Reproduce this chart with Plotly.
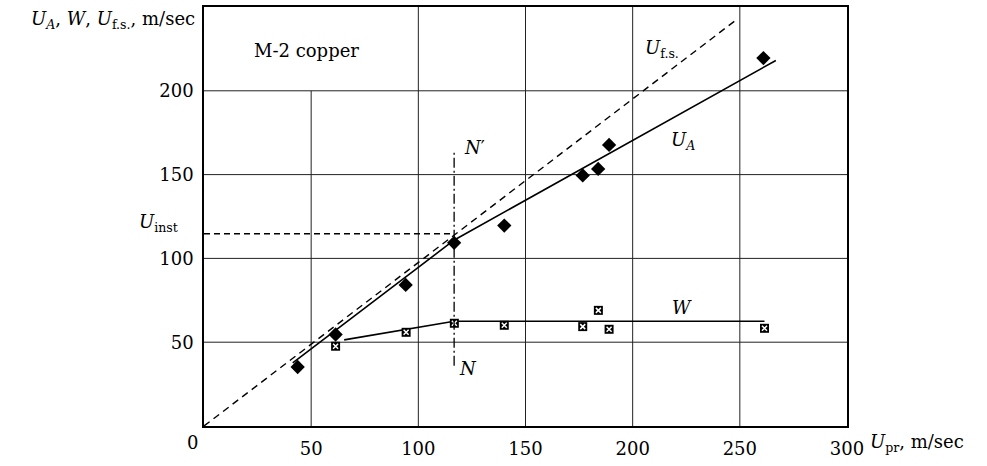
import plotly.graph_objects as go

# ---- data ----
ua_x = [43.7, 61.4, 94.1, 116.7, 140.1, 176.7, 183.9, 189.0, 261.0]
ua_y = [35.2, 54.6, 84.2, 109.3, 119.6, 149.5, 153.4, 167.7, 219.5]

w_x = [61.4, 94.3, 116.8, 140.1, 176.7, 184.0, 189.0, 261.5]
w_y = [47.6, 55.9, 61.3, 60.1, 59.3, 69.0, 57.7, 58.3]

ua_fit_x = [41.4, 116.8, 266.8]
ua_fit_y = [37.6, 111.0, 218.1]

w_fit_x = [65.4, 116.7, 261.5]
w_fit_y = [51.4, 62.5, 62.5]

ufs_x = [0, 248]
ufs_y = [0, 242]

u_inst = 114.7
n_x = 116.7
n_y = [36.0, 163.0]

x_ticks = [50, 100, 150, 200, 250, 300]
y_ticks = [50, 100, 150, 200]
x_grid = [50, 100, 150, 200, 250]
y_grid = [50, 100, 150, 200]

FONT = "DejaVu Serif"
FS = 18

fig = go.Figure()

shapes = []
for gx in x_grid:
    top = 200 if gx == 50 else 250
    shapes.append(dict(type="line", xref="x", yref="y", x0=gx, x1=gx, y0=0, y1=top,
                       line=dict(color="#222", width=1), layer="below"))
for gy in y_grid:
    shapes.append(dict(type="line", xref="x", yref="y", x0=0, x1=300, y0=gy, y1=gy,
                       line=dict(color="#222", width=1), layer="below"))
shapes.append(dict(type="line", xref="x", yref="y", x0=0, x1=n_x, y0=u_inst, y1=u_inst,
                   line=dict(color="black", width=1.3, dash="6px,4px")))
shapes.append(dict(type="line", xref="x", yref="y", x0=n_x, x1=n_x, y0=n_y[0], y1=n_y[1],
                   line=dict(color="black", width=1.3, dash="10px,3px,2px,3px")))

fig.add_trace(go.Scatter(x=ufs_x, y=ufs_y, mode="lines",
                         line=dict(color="black", width=1.4, dash="7px,5px"), showlegend=False))
fig.add_trace(go.Scatter(x=ua_fit_x, y=ua_fit_y, mode="lines",
                         line=dict(color="black", width=1.6), showlegend=False))
fig.add_trace(go.Scatter(x=w_fit_x, y=w_fit_y, mode="lines",
                         line=dict(color="black", width=1.6), showlegend=False))
fig.add_trace(go.Scatter(x=ua_x, y=ua_y, mode="markers",
                         marker=dict(symbol="diamond", size=11, color="black"), showlegend=False))
fig.add_trace(go.Scatter(x=w_x, y=w_y, mode="markers",
                         marker=dict(symbol="square", size=9, color="black"), showlegend=False))
fig.add_trace(go.Scatter(x=w_x, y=w_y, mode="markers",
                         marker=dict(symbol="x-thin", size=5, color="white",
                                     line=dict(color="white", width=1.5)), showlegend=False))

ann = []
def A(text, x, y, xanchor="left", size=FS):
    ann.append(dict(text=text, x=x, y=y, xref="paper", yref="paper", xanchor=xanchor,
                    yanchor="middle", showarrow=False,
                    font=dict(family=FONT, size=size, color="black")))

A("<i>U</i><sub><i>A</i></sub>, <i>W</i>, <i>U</i><sub>f.s.</sub>, m/sec", 197, 18, xanchor="right")
A("<i>U</i><sub>pr</sub>, m/sec", 868, 443)
A("0", 192, 443, xanchor="center")
A("M-2 copper", 252, 49)
A("<i>U</i><sub>inst</sub>", 137, 222)
A("<i>U</i><sub>f.s.</sub>", 643, 47)
A("<i>U</i><sub><i>A</i></sub>", 669, 140)
A("<i>W</i>", 670, 307)
A("<i>N</i>′", 462, 146)
A("<i>N</i>", 457, 368)

L, R, T, B = 204, 140, 5, 40
W, H = 987, 466
pw, ph = W - L - R, H - T - B
for a in ann:
    a["x"] = (a["x"] - L) / pw
    a["y"] = (H - B - a["y"]) / ph

fig.update_layout(
    width=W, height=H,
    margin=dict(l=L, r=R, t=T, b=B, pad=0),
    paper_bgcolor="white", plot_bgcolor="white",
    font=dict(family=FONT, size=FS, color="black"),
    xaxis=dict(range=[0, 300], tickvals=x_ticks, ticktext=[str(v) for v in x_ticks],
               showgrid=False, zeroline=False, showline=True, mirror=True,
               linecolor="black", linewidth=1.5, ticks="", ticklabelstandoff=6,
               tickfont=dict(family=FONT, size=FS)),
    yaxis=dict(range=[0, 250], tickvals=y_ticks, ticktext=[str(v) for v in y_ticks],
               showgrid=False, zeroline=False, showline=True, mirror=True,
               linecolor="black", linewidth=1.5, ticks="", ticklabelstandoff=5,
               tickfont=dict(family=FONT, size=FS)),
    shapes=shapes, annotations=ann,
)

fig.write_html("out.html")
